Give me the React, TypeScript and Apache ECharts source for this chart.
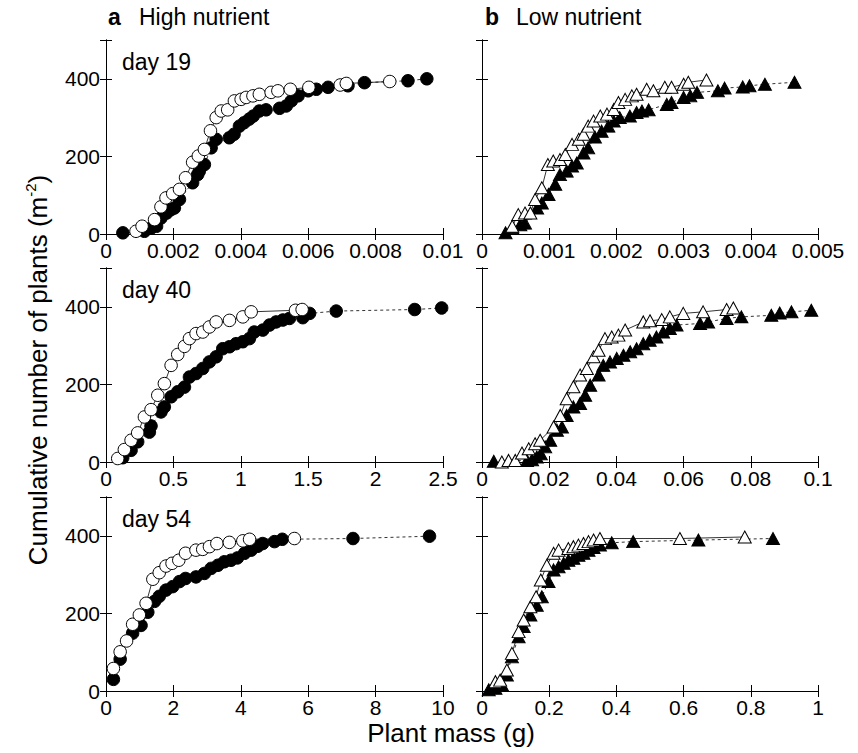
import React, { useEffect, useRef } from 'react';
import * as echarts from 'echarts';

const FONT = "'Liberation Sans', Arial, Helvetica, sans-serif";

// ---------- text ----------
const columnLetters = ['a', 'b'];
const columnTitles = ['High nutrient', 'Low nutrient'];
const dayLabels = ['day 19', 'day 40', 'day 54'];
const xAxisTitle = 'Plant mass (g)';
const yAxisTitleMain = 'Cumulative number of plants (m';
const yAxisTitleSup = '-2';
const yAxisTitleEnd = ')';

// ---------- axes ----------
const yMax = 500;
const yStep = 200;
const yTickLabels = ['0', '200', '400'];
// [row][col]
const xMaxes = [
  [0.01, 0.005],
  [2.5, 0.1],
  [10, 1],
];
const xSteps = [
  [0.002, 0.001],
  [0.5, 0.02],
  [2, 0.2],
];
const xTickLabels = [
  [
    ['0', '0.002', '0.004', '0.006', '0.008', '0.01'],
    ['0', '0.001', '0.002', '0.003', '0.004', '0.005'],
  ],
  [
    ['0', '0.5', '1', '1.5', '2', '2.5'],
    ['0', '0.02', '0.04', '0.06', '0.08', '0.1'],
  ],
  [
    ['0', '2', '4', '6', '8', '10'],
    ['0', '0.2', '0.4', '0.6', '0.8', '1'],
  ],
];

// ---------- data: [plant mass, cumulative number] ----------
// High nutrient, day 19
const highD19Filled = [
  [0.0005, 3], [0.00114, 7], [0.00134, 15], [0.0015, 20], [0.00163, 41], [0.0018, 54],
  [0.00193, 63], [0.00203, 67], [0.00218, 89], [0.00257, 132], [0.00272, 153], [0.00277, 162],
  [0.00292, 179], [0.00312, 222], [0.00327, 244], [0.00366, 248], [0.0038, 257], [0.00396, 278],
  [0.0041, 287], [0.00425, 296], [0.00437, 304], [0.00455, 317], [0.00475, 320], [0.00515, 324],
  [0.00535, 330], [0.0055, 343], [0.0057, 356], [0.006, 369], [0.00624, 373], [0.00659, 378],
  [0.00718, 382], [0.00767, 390], [0.00896, 395], [0.00952, 400],
];
const highD19Open = [
  [0.00089, 7], [0.00107, 20], [0.00144, 37], [0.00163, 70], [0.00178, 93], [0.00198, 104],
  [0.00218, 115], [0.00236, 145], [0.00257, 185], [0.00274, 201], [0.00292, 218], [0.0031, 266],
  [0.00327, 300], [0.00342, 317], [0.00361, 320], [0.00381, 343], [0.00401, 347], [0.00416, 352],
  [0.00436, 356], [0.00455, 360], [0.0049, 365], [0.0051, 369], [0.00547, 373], [0.00602, 378],
  [0.00695, 384], [0.00713, 388], [0.00842, 393],
];
// Low nutrient, day 19
const lowD19Filled = [
  [0.00035, 3], [0.00045, 16], [0.00057, 24], [0.00064, 28], [0.00082, 67], [0.00089, 80],
  [0.00099, 102], [0.00109, 128], [0.00116, 153], [0.00126, 162], [0.00134, 175], [0.00141, 183],
  [0.00151, 209], [0.00158, 222], [0.00168, 250], [0.00178, 265], [0.00188, 278], [0.00196, 291],
  [0.00205, 300], [0.0022, 304], [0.0023, 313], [0.00238, 317], [0.00248, 320], [0.00275, 334],
  [0.00282, 339], [0.003, 352], [0.0031, 356], [0.0032, 365], [0.00351, 369], [0.00361, 376],
  [0.00388, 379], [0.00398, 382], [0.00421, 386], [0.00465, 391],
];
const lowD19Open = [
  [0.00045, 20], [0.00054, 50], [0.00064, 54], [0.00072, 54], [0.00079, 89], [0.00089, 119],
  [0.00098, 179], [0.00106, 188], [0.00116, 192], [0.00124, 205], [0.00134, 231], [0.00144, 244],
  [0.00151, 257], [0.00158, 278], [0.00166, 291], [0.00176, 304], [0.00186, 309], [0.00196, 321],
  [0.00203, 339], [0.00213, 347], [0.00223, 356], [0.0023, 360], [0.00245, 373], [0.00255, 369],
  [0.00272, 378], [0.00282, 378], [0.003, 386], [0.00307, 391], [0.00334, 397],
];
// High nutrient, day 40
const highD40Filled = [
  [0.124, 11], [0.186, 30], [0.235, 52], [0.322, 77], [0.334, 93], [0.408, 129], [0.433, 142],
  [0.483, 168], [0.532, 181], [0.582, 193], [0.619, 219], [0.668, 228], [0.718, 241], [0.767, 258],
  [0.817, 271], [0.866, 292], [0.916, 297], [0.965, 305], [1.015, 310], [1.064, 318], [1.1, 335],
  [1.163, 340], [1.213, 353], [1.262, 361], [1.312, 366], [1.361, 370], [1.46, 372], [1.51, 383],
  [1.708, 389], [2.29, 393], [2.49, 397],
];
const highD40Open = [
  [0.087, 9], [0.136, 32], [0.186, 56], [0.235, 75], [0.285, 116], [0.334, 135], [0.384, 172],
  [0.433, 202], [0.483, 249], [0.532, 277], [0.582, 298], [0.619, 318], [0.668, 331], [0.718, 335],
  [0.767, 348], [0.817, 361], [0.916, 365], [1.015, 374], [1.077, 387], [1.406, 391], [1.455, 393],
];
// Low nutrient, day 40
const lowD40Filled = [
  [0.0035, 2], [0.0134, 4], [0.0149, 6], [0.0163, 13], [0.0175, 21], [0.0188, 39], [0.0203, 56],
  [0.0223, 82], [0.0238, 90], [0.0252, 120], [0.0272, 142], [0.0292, 151], [0.0307, 172],
  [0.0322, 198], [0.0347, 224], [0.0361, 249], [0.0381, 258], [0.0401, 267], [0.0421, 275],
  [0.0441, 284], [0.046, 292], [0.048, 305], [0.0499, 314], [0.0519, 322], [0.0539, 335],
  [0.0559, 344], [0.0579, 353], [0.0649, 357], [0.0673, 361], [0.0728, 370], [0.0772, 374],
  [0.0861, 378], [0.0886, 384], [0.0921, 387], [0.098, 391],
];
const lowD40Open = [
  [0.0059, 0], [0.0079, 4], [0.0099, 4], [0.0119, 23], [0.0139, 34], [0.0158, 47], [0.0173, 56],
  [0.0213, 90], [0.0233, 120], [0.0252, 163], [0.0272, 194], [0.0292, 224], [0.0312, 241],
  [0.0332, 271], [0.0347, 288], [0.0366, 318], [0.0386, 322], [0.0406, 327], [0.0426, 340],
  [0.048, 361], [0.05, 364], [0.0535, 367], [0.0559, 374], [0.0599, 383], [0.0658, 387],
  [0.0728, 393], [0.0748, 397],
];
// High nutrient, day 54
const highD54Filled = [
  [0.22, 30], [0.42, 82], [0.79, 149], [1.04, 169], [1.24, 203], [1.44, 231], [1.58, 244],
  [1.78, 260], [1.98, 269], [2.18, 282], [2.36, 290], [2.67, 294], [2.92, 303], [3.12, 316],
  [3.32, 324], [3.51, 333], [3.71, 337], [3.9, 343], [4.11, 355], [4.31, 363], [4.5, 373],
  [4.65, 380], [5.0, 385], [5.23, 391], [7.33, 393], [9.6, 399],
];
const highD54Open = [
  [0.22, 58], [0.42, 101], [0.61, 129], [0.79, 172], [0.99, 196], [1.19, 226], [1.39, 288],
  [1.58, 305], [1.78, 322], [1.96, 329], [2.16, 337], [2.36, 355], [2.67, 363], [2.87, 365],
  [3.07, 372], [3.29, 380], [3.66, 383], [4.06, 387], [4.26, 391], [5.59, 393],
];
// Low nutrient, day 54
const lowD54Filled = [
  [0.02, 3], [0.04, 7], [0.06, 15], [0.074, 41], [0.089, 88], [0.109, 140], [0.124, 166],
  [0.144, 196], [0.163, 221], [0.178, 243], [0.198, 282], [0.213, 312], [0.228, 320], [0.243, 329],
  [0.257, 337], [0.272, 342], [0.287, 350], [0.302, 355], [0.317, 363], [0.332, 370], [0.351, 376],
  [0.386, 382], [0.45, 385], [0.644, 389], [0.866, 393],
];
const lowD54Open = [
  [0.04, 24], [0.054, 28], [0.074, 54], [0.089, 97], [0.109, 153], [0.124, 183], [0.144, 217],
  [0.161, 243], [0.175, 286], [0.193, 324], [0.213, 355], [0.228, 363], [0.257, 367], [0.272, 372],
  [0.287, 376], [0.302, 380], [0.317, 385], [0.332, 389], [0.351, 393], [0.589, 393], [0.782, 397],
];

const panelFilled = [
  [highD19Filled, lowD19Filled],
  [highD40Filled, lowD40Filled],
  [highD54Filled, lowD54Filled],
];
const panelOpen = [
  [highD19Open, lowD19Open],
  [highD40Open, lowD40Open],
  [highD54Open, lowD54Open],
];

// ---------- layout ----------
const W = 858;
const H = 753;
const colLeft = [106, 482];
const colWidth = [337, 336];
const rowTop = [40, 268, 497];
const rowHeight = 194;

export default function App() {
  const ref = useRef<HTMLDivElement>(null);

  useEffect(() => {
    if (!ref.current) return;
    const chart = echarts.init(ref.current, undefined, { renderer: 'svg' });

    const grids: any[] = [];
    const xAxes: any[] = [];
    const yAxes: any[] = [];
    const series: any[] = [];
    const lineCol = '#000';

    for (let r = 0; r < 3; r++) {
      for (let c = 0; c < 2; c++) {
        const g = grids.length;
        grids.push({ left: colLeft[c], top: rowTop[r], width: colWidth[c], height: rowHeight, containLabel: false });
        const step = xSteps[r][c];
        const labels = xTickLabels[r][c];
        const baseX = {
          type: 'value', gridIndex: g, min: 0, max: xMaxes[r][c], interval: step,
          splitLine: { show: false },
          axisLine: { show: true, lineStyle: { color: lineCol, width: 1 } },
          axisTick: { show: true, inside: true, length: 6, lineStyle: { color: lineCol, width: 1 } },
        };
        xAxes.push({
          ...baseX, position: 'bottom',
          axisLabel: {
            show: true, margin: 6, color: '#000', fontFamily: FONT, fontSize: 21,
            formatter: (v: number) => labels[Math.round(v / step)] ?? '',
            showMinLabel: true, showMaxLabel: true,
          },
        });
        xAxes.push({ ...baseX, position: 'top', axisLabel: { show: false } });
        const baseY = {
          type: 'value', gridIndex: g, min: 0, max: yMax, interval: yStep,
          splitLine: { show: false },
          axisLine: { show: true, lineStyle: { color: lineCol, width: 1 } },
          axisTick: { show: true, inside: true, length: 6, lineStyle: { color: lineCol, width: 1 } },
        };
        yAxes.push({
          ...baseY, position: 'left',
          axisLabel: {
            show: c === 0, margin: 6, color: '#000', fontFamily: FONT, fontSize: 21,
            formatter: (v: number) => (v % yStep === 0 ? yTickLabels[v / yStep] ?? '' : ''),
          },
        });
        yAxes.push({ ...baseY, position: 'right', axisLabel: { show: false } });

        const sym = c === 0 ? 'circle' : 'triangle';
        const size: any = c === 0 ? 12.5 : [13, 12];
        series.push({
          type: 'line', xAxisIndex: 2 * g, yAxisIndex: 2 * g, data: panelFilled[r][c],
          symbol: sym, symbolSize: size, showSymbol: true, clip: false, silent: true,
          itemStyle: { color: '#000', borderColor: '#000', borderWidth: 1 },
          lineStyle: { color: '#000', width: 0.8, type: [3, 3] },
          emphasis: { disabled: true }, z: 2,
        });
        series.push({
          type: 'line', xAxisIndex: 2 * g, yAxisIndex: 2 * g, data: panelOpen[r][c],
          symbol: sym, symbolSize: size, showSymbol: true, clip: false, silent: true,
          itemStyle: { color: '#fff', borderColor: '#000', borderWidth: 1 },
          lineStyle: { color: '#000', width: 0.8, type: 'solid' },
          emphasis: { disabled: true }, z: 3,
        });
      }
    }

    const graphics: any[] = [];
    // column titles
    const letterX = [108, 485];
    const titleX = [139, 516];
    for (let c = 0; c < 2; c++) {
      graphics.push({
        type: 'text', left: letterX[c], top: 5,
        style: { text: columnLetters[c], fontFamily: FONT, fontSize: 23, fontWeight: 'bold', fill: '#000' },
      });
      graphics.push({
        type: 'text', left: titleX[c], top: 5,
        style: { text: columnTitles[c], fontFamily: FONT, fontSize: 23, fill: '#000' },
      });
    }
    // day labels
    for (let r = 0; r < 3; r++) {
      graphics.push({
        type: 'text', left: 122, top: rowTop[r] + 10,
        style: { text: dayLabels[r], fontFamily: FONT, fontSize: 23, fill: '#000' },
      });
    }
    // x axis title
    graphics.push({
      type: 'text', x: 451, y: 733,
      style: {
        text: xAxisTitle, fontFamily: FONT, fontSize: 26, fill: '#000',
        align: 'center', verticalAlign: 'middle',
      },
    });
    // y axis title
    graphics.push({
      type: 'text', x: 38, y: 370, rotation: Math.PI / 2,
      style: {
        text: `{a|${yAxisTitleMain}}{s|${yAxisTitleSup}}{a|${yAxisTitleEnd}}`,
        align: 'center', verticalAlign: 'middle', fill: '#000',
        rich: {
          a: { fontFamily: FONT, fontSize: 26, fill: '#000', lineHeight: 30 },
          s: { fontFamily: FONT, fontSize: 15, fill: '#000', verticalAlign: 'top', lineHeight: 30 },
        },
      },
    });

    chart.setOption({
      animation: false,
      backgroundColor: '#fff',
      textStyle: { fontFamily: FONT },
      grid: grids,
      xAxis: xAxes,
      yAxis: yAxes,
      series,
      graphic: graphics,
    });

    return () => chart.dispose();
  }, []);

  return (
    <div
      ref={ref}
      style={{ position: 'fixed', left: 0, top: 0, width: W, height: H, background: '#fff' }}
    />
  );
}
